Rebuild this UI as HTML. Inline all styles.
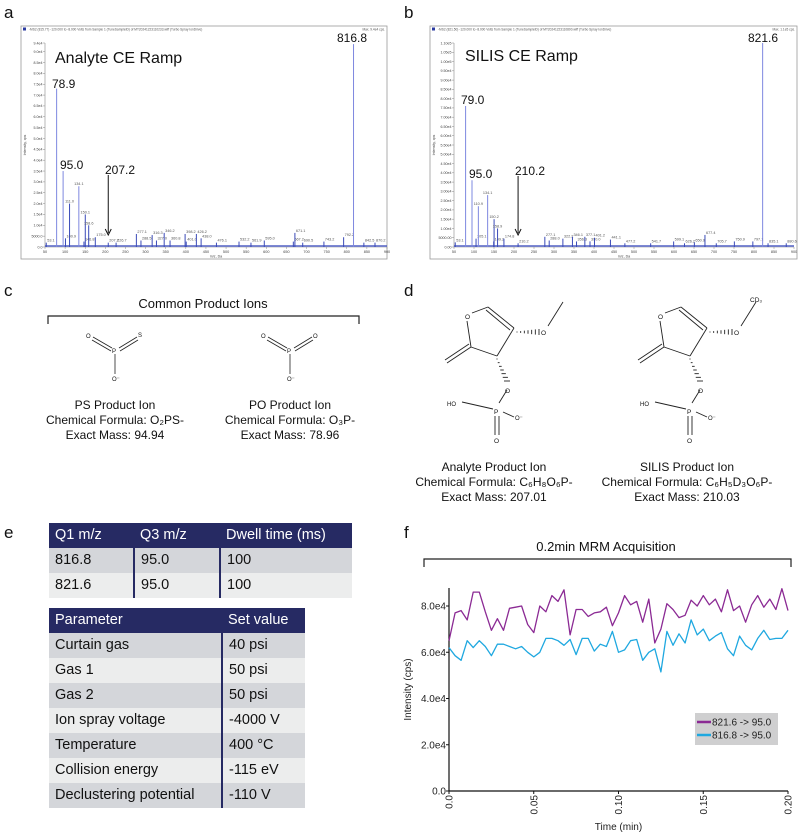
<!DOCTYPE html>
<html><head><meta charset="utf-8">
<style>
html,body{margin:0;padding:0;background:#fff;}
body{width:800px;height:833px;position:relative;overflow:hidden;font-family:"Liberation Sans",sans-serif;}
svg{position:absolute;left:0;top:0;}
.tbl{position:absolute;border-collapse:collapse;font-size:14.5px;color:#111;}
.tbl td{padding:0 0 0 6px;height:25px;line-height:25px;white-space:nowrap;}
.tbl tr.h td{background:#262a63;color:#fff;}
.tbl tr.r1 td{background:#d4d6da;}
.tbl tr.r2 td{background:#eceded;}
.tbl td.d{border-left:2px solid #262a63;}
</style></head><body>
<svg id="svg" width="800" height="833" viewBox="0 0 800 833" font-family="Liberation Sans, sans-serif">
<g id="letters" font-size="17" fill="#111">
<text x="4" y="18">a</text>
<text x="404" y="18">b</text>
<text x="4" y="296">c</text>
<text x="404" y="296">d</text>
<text x="4" y="538">e</text>
<text x="404" y="538">f</text>
</g>
<g id="specA"></g>
<g id="specB"></g>
<!-- panel c -->
<g fill="#111" stroke="#222">
<text x="203" y="308" font-size="13" text-anchor="middle" stroke="none">Common Product Ions</text>
<path d="M48 324 V316 H359 V324" fill="none" stroke-width="1.2"/>
<g stroke-width="0.8">
<line x1="93" y1="337" x2="112" y2="348"/><line x1="92" y1="340" x2="111" y2="351"/>
<line x1="119" y1="348" x2="137" y2="337"/><line x1="120" y1="351" x2="138" y2="340"/>
<line x1="115" y1="354" x2="115" y2="374"/>
<g stroke="none" font-size="6"><text x="86" y="338">O</text><text x="138" y="337">S</text><text x="112" y="353">P</text><text x="112" y="381">O⁻</text></g>
</g>
<g stroke-width="0.8">
<line x1="268" y1="337" x2="287" y2="348"/><line x1="267" y1="340" x2="286" y2="351"/>
<line x1="294" y1="348" x2="312" y2="337"/><line x1="295" y1="351" x2="313" y2="340"/>
<line x1="290" y1="354" x2="290" y2="374"/>
<g stroke="none" font-size="6"><text x="261" y="338">O</text><text x="313" y="338">O</text><text x="287" y="353">P</text><text x="287" y="381">O⁻</text></g>
</g>
<g stroke="none" font-size="12" text-anchor="middle">
<text x="115" y="409">PS Product Ion</text>
<text x="115" y="424">Chemical Formula: O₂PS-</text>
<text x="115" y="439">Exact Mass: 94.94</text>
<text x="290" y="409">PO Product Ion</text>
<text x="290" y="424">Chemical Formula: O₃P-</text>
<text x="290" y="439">Exact Mass: 78.96</text>
</g>
</g>
<!-- panel d -->
<g id="molA"></g>
<g id="molB"></g>
<g font-size="12" text-anchor="middle" fill="#111">
<text x="494" y="471">Analyte Product Ion</text>
<text x="494" y="486">Chemical Formula: C₆H₈O₆P-</text>
<text x="494" y="501">Exact Mass: 207.01</text>
<text x="687" y="471">SILIS Product Ion</text>
<text x="687" y="486">Chemical Formula: C₆H₅D₃O₆P-</text>
<text x="687" y="501">Exact Mass: 210.03</text>
</g>
<!-- panel f -->
<g>
<text x="606" y="551" font-size="13" text-anchor="middle" fill="#111">0.2min MRM Acquisition</text>
<path d="M424 567 V559 H791 V567" fill="none" stroke="#222" stroke-width="1.2"/>
<g id="chartF"></g>
</g>
</svg>

<table class="tbl" style="left:49px;top:523px;width:303px">
<tr class="h"><td style="width:79px">Q1 m/z</td><td style="width:80px">Q3 m/z</td><td>Dwell time (ms)</td></tr>
<tr class="r1"><td>816.8</td><td class="d">95.0</td><td class="d">100</td></tr>
<tr class="r2"><td>821.6</td><td class="d">95.0</td><td class="d">100</td></tr>
</table>
<table class="tbl" style="left:49px;top:608px;width:256px">
<tr class="h"><td style="width:167px">Parameter</td><td>Set value</td></tr>
<tr class="r1"><td>Curtain gas</td><td class="d">40 psi</td></tr>
<tr class="r2"><td>Gas 1</td><td class="d">50 psi</td></tr>
<tr class="r1"><td>Gas 2</td><td class="d">50 psi</td></tr>
<tr class="r2"><td>Ion spray voltage</td><td class="d">-4000 V</td></tr>
<tr class="r1"><td>Temperature</td><td class="d">400 °C</td></tr>
<tr class="r2"><td>Collision energy</td><td class="d">-115 eV</td></tr>
<tr class="r1"><td>Declustering potential</td><td class="d">-110 V</td></tr>
</table>

<script>
// ---- spectrum data ----
const peaksA_mz = [53.1,78.9,95.0,100.9,111.0,134.1,146.8,150.1,158.6,175.0,207.2,226.7,277.1,288.5,316.3,327.0,346.2,360.8,398.2,401.0,426.2,438.0,476.1,532.2,561.9,595.0,667.2,671.1,690.5,743.2,792.2,816.8,842.5,870.2];
const peaksA_int = [0.2,7.3,3.5,0.4,2.0,2.8,0.25,1.5,1.0,0.45,0.2,0.2,0.6,0.3,0.55,0.3,0.65,0.3,0.6,0.25,0.6,0.4,0.2,0.25,0.2,0.3,0.25,0.65,0.2,0.25,0.45,9.35,0.2,0.2];
const peaksB_mz = [53.1,79.0,95.0,105.1,110.9,134.1,149.2,150.2,158.9,174.8,210.2,277.1,288.0,322.2,346.1,356.3,377.1,390.0,401.2,441.1,477.2,541.7,599.1,626.2,650.9,677.4,705.7,750.9,797.1,821.6,835.1,880.6];
const peaksB_int = [0.25,7.6,3.6,0.45,2.2,2.8,0.3,1.5,1.0,0.45,0.2,0.55,0.35,0.45,0.55,0.3,0.55,0.3,0.5,0.4,0.2,0.2,0.3,0.2,0.25,0.65,0.2,0.3,0.3,11.0,0.2,0.2];
const ticksA_y = [0,0.5,1.0,1.5,2.0,2.5,3.0,3.5,4.0,4.5,5.0,5.5,6.0,6.5,7.0,7.5,8.0,8.5,9.0,9.4];
const ticksB_y = [0,0.5,1.0,1.5,2.0,2.5,3.0,3.5,4.0,4.5,5.0,5.5,6.0,6.5,7.0,7.5,8.0,8.5,9.0,9.5,10.0,10.5,11.0];
const ticks_mz = [50,100,150,200,250,300,350,400,450,500,550,600,650,700,750,800,850,900];
// ---- MRM data (x1e4 cps) ----
const purpleVals = [6.5,7.7,7.8,7.4,8.6,8.6,7.75,6.95,7.45,6.95,7.9,7.95,8.0,7.2,6.85,8.0,7.75,8.45,8.2,8.7,6.75,7.85,7.85,7.55,7.7,7.75,7.95,7.15,7.7,8.45,8.05,8.2,7.3,8.3,6.4,7.0,8.1,7.85,7.5,7.6,8.25,8.0,8.45,8.05,8.3,7.75,8.7,7.8,8.0,7.3,8.05,8.45,7.95,8.3,7.85,8.75,7.8];
const blueVals = [6.2,5.85,5.65,6.5,6.2,6.5,6.25,5.85,6.35,6.35,6.25,6.15,6.25,6.0,5.8,6.0,6.6,6.6,6.5,6.3,6.55,5.9,6.6,6.6,6.05,6.35,6.25,6.9,6.0,6.1,6.5,6.55,5.65,6.0,6.15,5.15,6.9,6.3,6.8,6.4,7.4,6.75,7.0,6.5,6.7,6.85,6.15,5.85,6.7,6.3,6.1,6.6,6.95,6.55,6.6,6.6,6.95];
const fYTicks = [0,2,4,6,8];
const fYTickLabels = ["0.0","2.0e4","4.0e4","6.0e4","8.0e4"];
const fXTicks = [0,0.05,0.10,0.15,0.20];
const fXTickLabels = ["0.0","0.05","0.10","0.15","0.20"];
const legendLabels = ["821.6 -> 95.0","816.8 -> 95.0"];

const NS="http://www.w3.org/2000/svg";
function mk(parent,tag,attrs,txt){const e=document.createElementNS(NS,tag);for(const k in attrs)e.setAttribute(k,attrs[k]);if(txt!==undefined)e.textContent=txt;parent.appendChild(e);return e;}

function spectrum(g,o){
  const sx=m=>o.x0+(m-50)/(850)*(o.x1-o.x0);
  const sy=v=>o.y0-v/o.ymax*(o.y0-o.y1);
  let e;
  e=mk(g,'rect',{x:o.fx,y:26,width:o.fw,height:233,fill:'#fff',stroke:'#999','stroke-width':0.8});
  
  
  mk(g,'rect',{x:o.fx+2,y:27.5,width:3,height:3,fill:'#2a3aa0'});
  e=mk(g,'text',{x:o.fx+8,y:30.5,'font-size':3.2,fill:'#555'},o.header);
  
  
  mk(g,'text',{x:o.fx+o.fw-2,y:30.5,'font-size':3.2,fill:'#555','text-anchor':'end'},o.maxTxt);
  mk(g,'line',{x1:o.x0,y1:o.y1,x2:o.x0,y2:o.y0,stroke:'#888','stroke-width':0.6});
  mk(g,'line',{x1:o.x0,y1:o.y0,x2:o.x1,y2:o.y0,stroke:'#888','stroke-width':0.6});
  o.yt.forEach((t,i)=>{const y=sy(t);mk(g,'line',{x1:o.x0-2,y1:y,x2:o.x0,y2:y,stroke:'#888','stroke-width':0.5});
    e=mk(g,'text',{x:o.x0-2.5,y:y+1.3,'font-size':3.6,fill:'#444','text-anchor':'end'},o.ytl(t));
    
    });
  ticks_mz.forEach(t=>{const x=sx(t);mk(g,'line',{x1:x,y1:o.y0,x2:x,y2:o.y0+2,stroke:'#888','stroke-width':0.5});
    e=mk(g,'text',{x:x,y:o.y0+6,'font-size':3.8,fill:'#444','text-anchor':'middle'},t);
    
    });
  mk(g,'text',{x:(o.x0+o.x1)/2,y:o.y0+10.5,'font-size':3.6,fill:'#444','text-anchor':'middle'},'m/z, Da');
  mk(g,'text',{x:0,y:0,'font-size':3.6,fill:'#444','text-anchor':'middle',transform:`translate(${o.fx+5},${(o.y0+o.y1)/2}) rotate(-90)`},'Intensity, cps');
  // baseline noise band
  mk(g,'rect',{x:o.x0,y:o.y0-2,width:o.x1-o.x0,height:2,fill:'#4656c0',opacity:0.7});
  o.mz.forEach((m,i)=>{const x=sx(m),y=sy(o.iv[i]);
    e=mk(g,'line',{x1:x,y1:o.y0,x2:x,y2:y,stroke:o.iv[i]>2?'#7e88e0':'#3a4ab8','stroke-width':1});
    
    
    if(o.iv[i]<3.2){e=mk(g,'text',{x:x+(o.iv[i]>0.8?0:1),y:y-1,'font-size':3.8,fill:'#555','text-anchor':o.iv[i]>0.8?'middle':'start'},m.toFixed(1));
      
      }
  });
  o.big.forEach(b=>{e=mk(g,'text',{x:b[1],y:b[2],'font-size':12,fill:'#111'},b[0]);
    
    });
  e=mk(g,'text',{x:o.title[1],y:o.title[2],'font-size':16,fill:'#111'},o.title[0]);
  
  
  const ax=sx(o.arrowMz);
  mk(g,'line',{x1:ax,y1:o.arrowY,x2:ax,y2:o.y0-14,stroke:'#111','stroke-width':1});
  mk(g,'path',{d:`M${ax-3} ${o.y0-18} L${ax} ${o.y0-12} L${ax+3} ${o.y0-18}`,fill:'none',stroke:'#111','stroke-width':1});
}
spectrum(document.getElementById('specA'),{fx:21,fw:366,x0:45,x1:387,y0:247,y1:43,ymax:9.4,mz:peaksA_mz,iv:peaksA_int,yt:ticksA_y,
  ytl:t=>t===0?'0.0':t===0.5?'5000.0':t.toFixed(1)+'e4',header:'-MS2 (815.77) -120.000 to -8.000 Volts from Sample 1 (TuneSampleID) of MT20241223110233.wiff (Turbo Spray IonDrive)',maxTxt:'Max. 9.4e4 cps.',
  big:[['816.8',337,42],['78.9',52,88],['95.0',60,169],['207.2',105,174]],title:['Analyte CE Ramp',55,63],arrowMz:207.2,arrowY:175});
spectrum(document.getElementById('specB'),{fx:430,fw:367,x0:454,x1:794,y0:247,y1:43,ymax:11.0,mz:peaksB_mz,iv:peaksB_int,yt:ticksB_y,
  ytl:t=>t===0?'0.00':t===0.5?'5000.00':t>=10?(t/10).toFixed(2)+'e5':t.toFixed(2)+'e4',header:'-MS2 (821.50) -120.000 to -8.000 Volts from Sample 1 (TuneSampleID) of MT20241223110800.wiff (Turbo Spray IonDrive)',maxTxt:'Max. 1.1e5 cps.',
  big:[['821.6',748,42],['79.0',461,104],['95.0',469,178],['210.2',515,175]],title:['SILIS CE Ramp',465,61],arrowMz:210.2,arrowY:176});

// molecules
function mol(g,dx,cd3){
  const L=(a,b,c,d)=>mk(g,'line',{x1:a+dx,y1:b,x2:c+dx,y2:d,stroke:'#222','stroke-width':0.9});
  const T=(s,x,y,fs)=>mk(g,'text',{x:x+dx,y:y,'font-size':fs||6.5,fill:'#111'},s);
  L(472,313,488,307);L(488,307,514,328);L(486,310,510,330);L(514,328,497,356);L(497,356,471,347);L(471,347,467,321);
  L(471,347,447,363);L(469,344,445,360);
  for(let i=0;i<7;i++){const t=i/6;const x=517+t*22,h=0.5+t*2.5;L(x,332-h,x,332+h);}
  L(548,326,563,302);
  for(let i=0;i<7;i++){const t=i/6;const y=359+t*22,w=0.5+t*2.5;L(497+t*10-w,y,497+t*10+w,y);}
  L(507,390,499,403);L(462,402,493,409);L(503,412,514,417);
  L(495,416,495,435);L(499,416,499,435);
  T('O',465,319);T('O',541,335);T('O',505,393);T('P',494,414);T('HO',447,406,6);T('O⁻',515,420,6);T('O',494,443);
  if(cd3)T('CD₃',557,302,6.5);
}
mol(document.getElementById('molA'),0,false);
mol(document.getElementById('molB'),193,true);

// MRM chart
(function(){
  const g=document.getElementById('chartF');
  const X0=449,X1=788,Y0=791,Ymax8=606;
  const sx=t=>X0+t/0.2*(X1-X0);
  const sy=v=>Y0-v/8*(Y0-Ymax8);
  let e;
  e=mk(g,'line',{x1:X0,y1:588,x2:X0,y2:Y0,stroke:'#111','stroke-width':1.2});
  
  
  e=mk(g,'line',{x1:X0,y1:Y0,x2:X1,y2:Y0,stroke:'#111','stroke-width':1.2});
  
  
  fYTicks.forEach((t,i)=>{const y=sy(t);mk(g,'line',{x1:X0-3,y1:y,x2:X0,y2:y,stroke:'#111'});
    e=mk(g,'text',{x:X0-3,y:y+3.5,'font-size':10,fill:'#222','text-anchor':'end'},fYTickLabels[i]);
    
    });
  fXTicks.forEach((t,i)=>{const x=sx(t);mk(g,'line',{x1:x,y1:Y0,x2:x,y2:Y0+3,stroke:'#111'});
    e=mk(g,'text',{x:0,y:0,'font-size':10,fill:'#222','text-anchor':'end',transform:`translate(${x+3.5},${Y0+4}) rotate(-90)`},fXTickLabels[i]);
    
    });
  e=mk(g,'text',{x:(X0+X1)/2,y:830,'font-size':10,fill:'#222','text-anchor':'middle'},'Time (min)');
  
  
  e=mk(g,'text',{x:0,y:0,'font-size':10,fill:'#222','text-anchor':'middle',transform:`translate(411,${(588+Y0)/2}) rotate(-90)`},'Intensity (cps)');
  
  
  function line(vals,col,name){
    const pts=vals.map((v,i)=>sx(i/(vals.length-1)*0.2).toFixed(1)+','+sy(v).toFixed(1)).join(' ');
    const p=mk(g,'polyline',{points:pts,fill:'none',stroke:col,'stroke-width':1.3,'stroke-linejoin':'round'});
    
    
  }
  line(blueVals,'#1fa8e0','series-816-8');
  line(purpleVals,'#8b2a94','series-821-6');
  e=mk(g,'rect',{x:695,y:713,width:83,height:32,fill:'#cfcfd0'});
  
  
  const cols=['#8b2a94','#1fa8e0'];
  legendLabels.forEach((l,i)=>{const y=722+i*13;
    mk(g,'line',{x1:697,y1:y,x2:711,y2:y,stroke:cols[i],'stroke-width':2.5});
    e=mk(g,'text',{x:712,y:y+3.5,'font-size':10,fill:'#222'},l);
    
    });
})();
</script>
</body></html>
